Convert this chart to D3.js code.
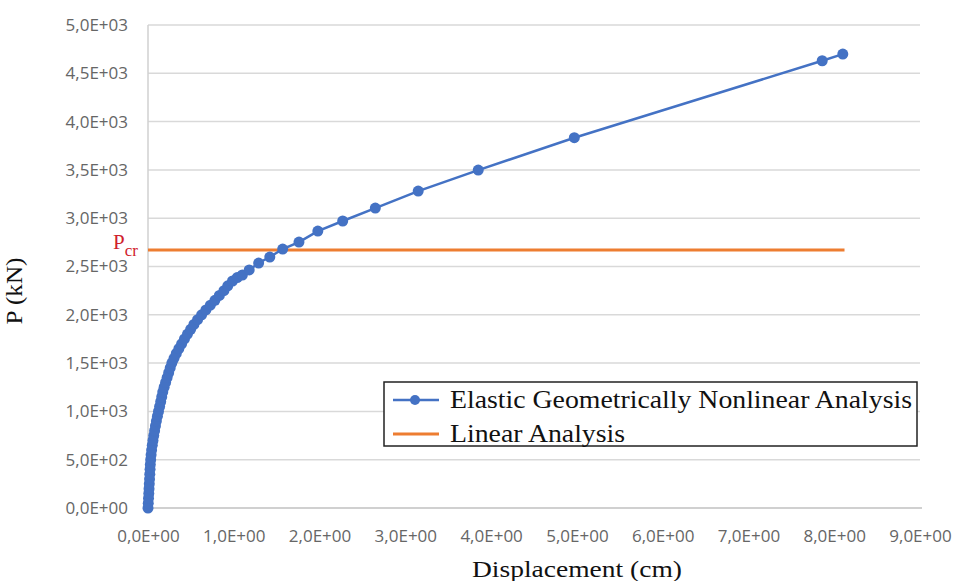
<!DOCTYPE html>
<html><head><meta charset="utf-8">
<script src="https://cdn.jsdelivr.net/npm/d3@7/dist/d3.min.js"></script>
<style>body{margin:0;background:#fff}svg{display:block}</style>
</head><body>
<svg id="c" width="956" height="581"></svg>
<script>
// Displacement (cm) values of the nonlinear analysis
const displacement = [0.000,0.003,0.006,0.009,0.012,0.015,0.018,0.021,0.024,0.027,0.031,0.036,0.042,0.050,0.058,0.067,0.077,0.087,0.098,0.110,0.122,0.135,0.148,0.160,0.172,0.188,0.205,0.223,0.241,0.259,0.278,0.303,0.330,0.360,0.392,0.425,0.460,0.497,0.535,0.578,0.625,0.675,0.727,0.780,0.832,0.885,0.930,0.985,1.04,1.10,1.18,1.29,1.42,1.57,1.76,1.98,2.27,2.65,3.15,3.85,4.97,7.86,8.10];
// Load P (kN)
const load = [0,50,100,150,200,250,300,350,400,450,500,550,600,650,700,750,800,850,900,950,1000,1050,1100,1150,1200,1250,1300,1350,1400,1450,1500,1550,1600,1650,1700,1750,1800,1850,1900,1950,2000,2050,2100,2150,2200,2250,2300,2350,2385,2412,2464,2536,2598,2681,2753,2867,2971,3105,3281,3498,3833,4630,4699];
// Linear analysis critical load
const linearX = [0, 8.12];
const linearP = [2670, 2670];
const xTicks = [0,1,2,3,4,5,6,7,8,9];
const yTicks = [0,500,1000,1500,2000,2500,3000,3500,4000,4500,5000];
const seriesNames = ["Elastic Geometrically Nonlinear Analysis","Linear Analysis"];

const svg = d3.select("#c");
const x = d3.scaleLinear().domain([0,9]).range([148,920]);
const y = d3.scaleLinear().domain([0,5000]).range([508,25]);

function sci(v){
  if (v === 0) return "0,0E+00";
  const e = Math.floor(Math.log10(Math.abs(v)) + 1e-9);
  const m = v / Math.pow(10, e);
  return m.toFixed(1).replace(".", ",") + "E" + (e < 0 ? "-" : "+") + String(Math.abs(e)).padStart(2, "0");
}

// grid
svg.append("g").selectAll("line").data(yTicks).join("line")
  .attr("x1", x(0)).attr("x2", x(9))
  .attr("y1", d => y(d)).attr("y2", d => y(d))
  .attr("stroke", "#d9d9d9").attr("stroke-width", 1.5);
svg.append("line").attr("x1", x(0)).attr("x2", x(0)).attr("y1", y(5000)).attr("y2", y(0))
  .attr("stroke", "#d0d0d0").attr("stroke-width", 1.5);

// axes via d3
const yAxis = d3.axisLeft(y).tickValues(yTicks).tickFormat(sci).tickSize(0).tickPadding(20);
const gy = svg.append("g").attr("transform", `translate(${x(0)},0)`).call(yAxis);
const xAxis = d3.axisBottom(x).tickValues(xTicks).tickFormat(sci).tickSize(0).tickPadding(22);
const gx = svg.append("g").attr("transform", `translate(0,${y(0)})`).call(xAxis);
[gx, gy].forEach(g => {
  g.select(".domain").remove();
  g.selectAll("text").attr("font-family", "'Open Sans', sans-serif").attr("font-size", 17).attr("fill", "#666");
});
gx.selectAll("line").remove();
svg.append("line").attr("x1", x(0)).attr("x2", x(9)+2).attr("y1", y(0)).attr("y2", y(0))
  .attr("stroke", "#d0d0d0").attr("stroke-width", 2);

// linear analysis line
const pts = displacement.map((d,i) => [d, load[i]]);
const linPts = linearX.map((d,i) => [d, linearP[i]]);
const line = d3.line().x(d => x(d[0])).y(d => y(d[1]));
svg.append("path").attr("d", line(linPts)).attr("fill", "none").attr("stroke", "#ED7D31").attr("stroke-width", 3);

// nonlinear
svg.append("path").attr("d", line(pts)).attr("fill", "none").attr("stroke", "#4472C4").attr("stroke-width", 2.5);
svg.append("g").selectAll("circle").data(pts).join("circle")
  .attr("cx", d => x(d[0])).attr("cy", d => y(d[1])).attr("r", 5.5).attr("fill", "#4472C4");

// Pcr label
const pcr = svg.append("text").attr("x", 113).attr("y", y(linearP[0]) - 1)
  .attr("font-family", "'Liberation Serif', 'Times New Roman', serif").attr("font-size", 21).attr("fill", "#d0202a");
pcr.append("tspan").text("P");
pcr.append("tspan").attr("font-size", 17).attr("dy", 7).text("cr");

// axis titles
svg.append("text").attr("x", 577).attr("y", 577).attr("text-anchor", "middle")
  .attr("font-family", "'Liberation Serif', 'Times New Roman', serif").attr("font-size", 24).attr("fill", "#111")
  .attr("textLength", 210).attr("lengthAdjust", "spacingAndGlyphs")
  .text("Displacement (cm)");
svg.append("text").attr("transform", "translate(22,291) rotate(-90)").attr("text-anchor", "middle")
  .attr("font-family", "'Liberation Serif', 'Times New Roman', serif").attr("font-size", 23).attr("fill", "#111")
  .attr("textLength", 67).attr("lengthAdjust", "spacingAndGlyphs")
  .text("P (kN)");

// legend
const lg = svg.append("g");
lg.append("rect").attr("x", 384).attr("y", 382).attr("width", 533).attr("height", 64)
  .attr("fill", "#fff").attr("stroke", "#222").attr("stroke-width", 1.5);
lg.append("line").attr("x1", 393).attr("x2", 439).attr("y1", 400).attr("y2", 400).attr("stroke", "#4472C4").attr("stroke-width", 2.5);
lg.append("circle").attr("cx", 415).attr("cy", 400).attr("r", 5).attr("fill", "#4472C4");
lg.append("line").attr("x1", 393).attr("x2", 439).attr("y1", 434).attr("y2", 434).attr("stroke", "#ED7D31").attr("stroke-width", 3);
const t1 = lg.append("text").attr("x", 450).attr("y", 408)
  .attr("font-family", "'Liberation Serif', 'Times New Roman', serif").attr("font-size", 25).attr("fill", "#111")
  .text(seriesNames[0]);
const t2 = lg.append("text").attr("x", 450).attr("y", 442)
  .attr("font-family", "'Liberation Serif', 'Times New Roman', serif").attr("font-size", 25).attr("fill", "#111")
  .text(seriesNames[1]);
const w1 = t1.node().getComputedTextLength();
const ratio = 462 / w1;
t1.attr("textLength", 462).attr("lengthAdjust", "spacingAndGlyphs");
t2.attr("textLength", t2.node().getComputedTextLength() * ratio).attr("lengthAdjust", "spacingAndGlyphs");
</script>
</body></html>
